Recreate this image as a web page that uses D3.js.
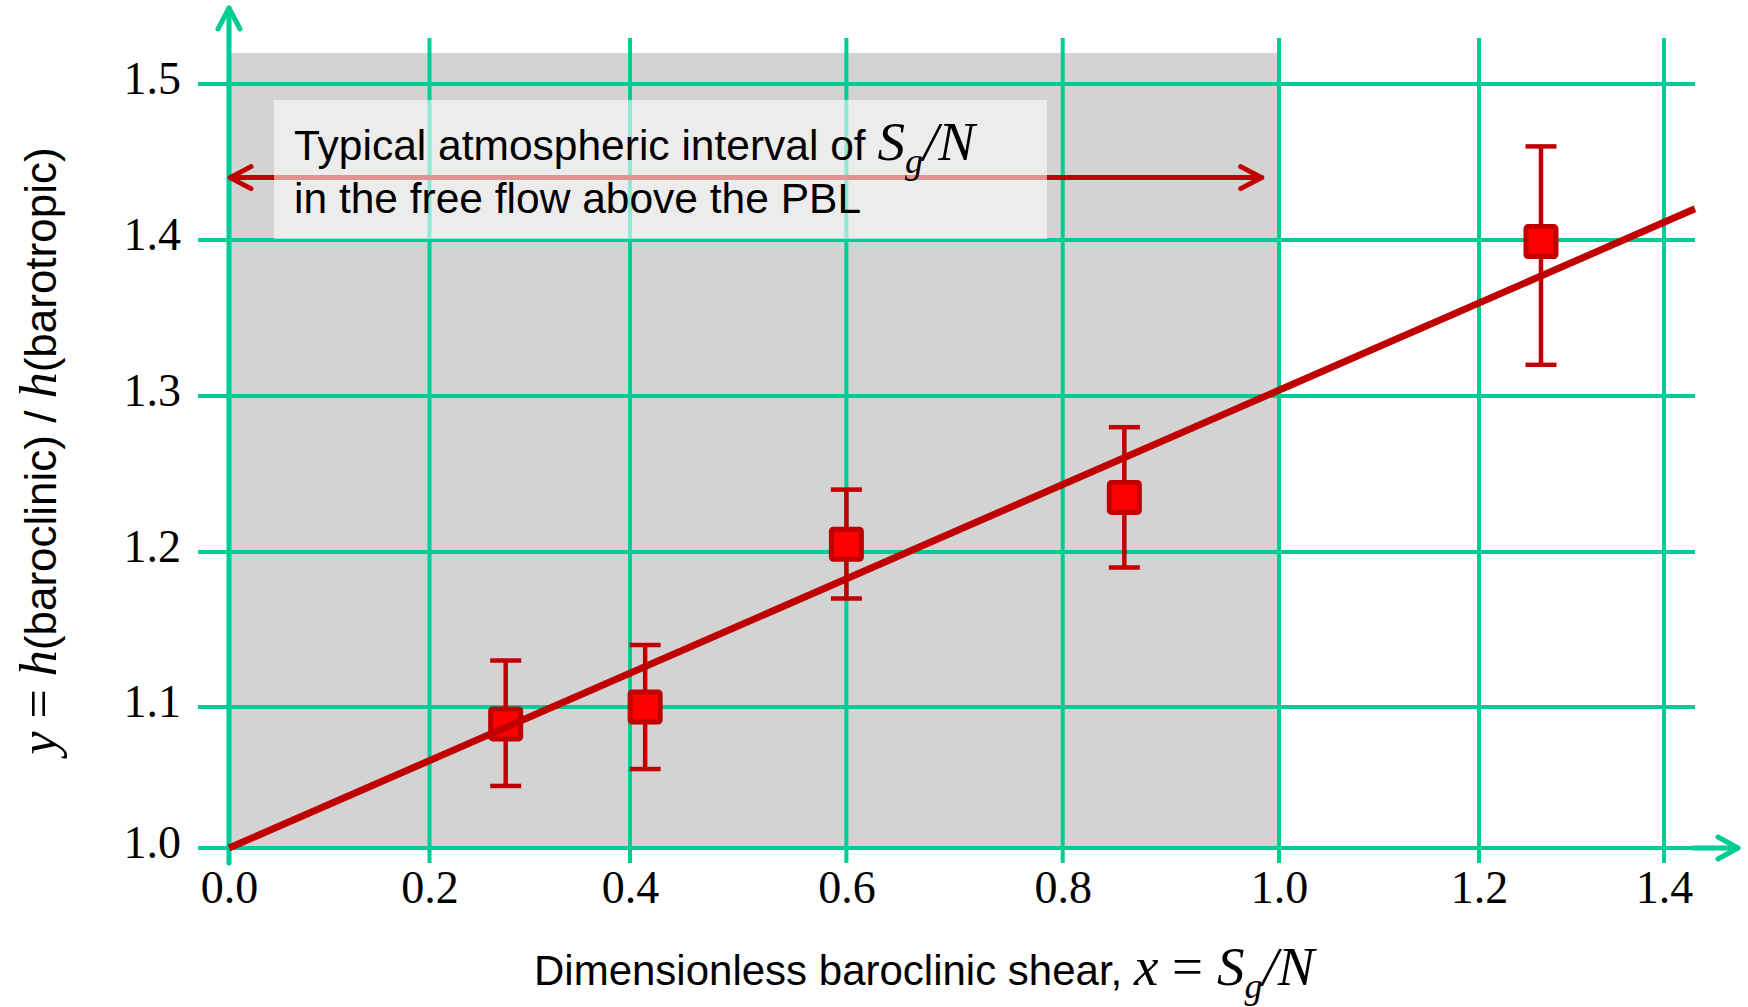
<!DOCTYPE html>
<html>
<head>
<meta charset="utf-8">
<script src="https://cdn.jsdelivr.net/npm/d3@7"></script>
<style>
  html, body { margin: 0; padding: 0; background: #fff; }
  svg { display: block; }
</style>
</head>
<body>
<div id="chart"></div>
<script>
// measured points (x = Sg/N, y = h ratio) with error bar ends
const shearValues = [0.276, 0.414, 0.600, 0.857, 1.267];
const ratioValues = [1.088, 1.100, 1.205, 1.235, 1.399];
const ratioLow    = [1.044, 1.056, 1.170, 1.190, 1.320];
const ratioHigh   = [1.130, 1.140, 1.240, 1.280, 1.460];

// straight fit line
const fitShear = [0.0, 1.4335];
const fitRatio = [1.0, 1.42];

const xTicks = [0.0, 0.2, 0.4, 0.6, 0.8, 1.0, 1.2, 1.4];
const yTicks = [1.0, 1.1, 1.2, 1.3, 1.4, 1.5];

// shaded "typical atmospheric" band and its arrow
const typicalInterval = [0.0, 1.0];
const intervalArrow = [0.0, 0.984];
const intervalArrowLevel = 1.44;

var width = 1748,
  height = 1007;

var green = "#00cc96",
  darkRed = "#c00000",
  serif = "'Liberation Serif', 'Times New Roman', serif",
  sans = "'Liberation Sans', Arial, sans-serif";

// the original grid is not evenly spaced, so the scales follow its gridlines
var xStops = [229, 429.5, 630, 846.4, 1062.7, 1279, 1479, 1664];
var yStops = [848, 707, 552, 396, 240, 84];

var x = d3.scaleLinear().domain(xTicks).range(xStops);
var y = d3.scaleLinear().domain(yTicks).range(yStops);

var svg = d3.select("#chart").append("svg")
  .attr("width", width)
  .attr("height", height);

var plotRight = x(fitShear[1]);
var gridTop = 38, gridBottom = 863, gridLeft = 198;

// shaded band
svg.append("rect")
  .attr("x", x(typicalInterval[0]))
  .attr("y", 53)
  .attr("width", x(typicalInterval[1]) - x(typicalInterval[0]))
  .attr("height", y(yTicks[0]) - 53)
  .attr("fill", "#d3d3d3");

// grid
svg.append("g").selectAll("line")
  .data(xTicks)
  .join("line")
    .attr("x1", d => x(d)).attr("x2", d => x(d))
    .attr("y1", gridTop).attr("y2", gridBottom)
    .attr("stroke", green).attr("stroke-width", 4);

svg.append("g").selectAll("line")
  .data(yTicks)
  .join("line")
    .attr("x1", gridLeft).attr("x2", plotRight)
    .attr("y1", d => y(d)).attr("y2", d => y(d))
    .attr("stroke", green).attr("stroke-width", 4);

// axis arrows
var axes = svg.append("g")
  .attr("fill", "none")
  .attr("stroke", green)
  .attr("stroke-width", 5)
  .attr("stroke-linecap", "round")
  .attr("stroke-linejoin", "round");

var x0 = x(0), y0 = y(yTicks[0]);
axes.append("line").attr("x1", x0).attr("x2", x0).attr("y1", gridBottom).attr("y2", 8);
axes.append("path").attr("d", "M" + (x0 - 11) + ",29L" + x0 + ",8L" + (x0 + 11) + ",29");
axes.append("line").attr("x1", plotRight - 2).attr("x2", 1738).attr("y1", y0).attr("y2", y0);
axes.append("path").attr("d", "M1718," + (y0 - 11) + "L1738," + y0 + "L1718," + (y0 + 11));

// tick labels
var xAxis = svg.append("g")
  .attr("transform", "translate(0," + y0 + ")")
  .call(d3.axisBottom(x).tickValues(xTicks).tickFormat(d3.format(".1f")).tickSize(0));
xAxis.select(".domain").remove();
xAxis.selectAll("text")
  .attr("y", 55).attr("dy", null)
  .attr("font-family", serif).attr("font-size", 46).attr("fill", "#000");

var yAxis = svg.append("g")
  .attr("transform", "translate(" + x0 + ",0)")
  .call(d3.axisLeft(y).tickValues(yTicks).tickFormat(d3.format(".1f")).tickSize(0));
yAxis.select(".domain").remove();
yAxis.selectAll("text")
  .attr("x", -48).attr("dy", 9)
  .attr("font-family", serif).attr("font-size", 46).attr("fill", "#000");

// interval arrow (under the text box)
var ay = y(intervalArrowLevel),
  ax1 = x(intervalArrow[0]),
  ax2 = x(intervalArrow[1]);
var arrow = svg.append("g")
  .attr("fill", "none")
  .attr("stroke", darkRed)
  .attr("stroke-width", 5)
  .attr("stroke-linecap", "round")
  .attr("stroke-linejoin", "round");
arrow.append("line").attr("x1", ax1 + 2).attr("x2", ax2).attr("y1", ay).attr("y2", ay);
arrow.append("path").attr("d", "M" + (ax1 + 22) + "," + (ay - 11) + "L" + (ax1 + 1) + "," + ay + "L" + (ax1 + 22) + "," + (ay + 11));
arrow.append("path").attr("d", "M" + (ax2 - 21) + "," + (ay - 11) + "L" + ax2 + "," + ay + "L" + (ax2 - 21) + "," + (ay + 11));

// annotation box
svg.append("rect")
  .attr("x", 274).attr("y", 100)
  .attr("width", 773).attr("height", 139)
  .attr("fill", "#fff").attr("fill-opacity", 0.57);

var note = svg.append("text")
  .attr("x", 294).attr("y", 160)
  .attr("font-family", sans).attr("font-size", 42.5).attr("fill", "#000");
note.append("tspan").text("Typical atmospheric interval of ");
note.append("tspan").attr("font-family", serif).attr("font-style", "italic").attr("font-size", 55).text("S");
note.append("tspan").attr("font-family", serif).attr("font-style", "italic").attr("font-size", 36).attr("dy", 13).text("g");
note.append("tspan").attr("font-family", serif).attr("font-style", "italic").attr("font-size", 55).attr("dy", -13).text("/N");

svg.append("text")
  .attr("x", 294).attr("y", 213)
  .attr("font-family", sans).attr("font-size", 42.5).attr("fill", "#000")
  .text("in the free flow above the PBL");

// error bars
var bars = svg.append("g")
  .attr("stroke", darkRed)
  .attr("stroke-width", 4.5);

shearValues.forEach(function(s, i) {
  var cx = x(s);
  bars.append("line").attr("x1", cx).attr("x2", cx).attr("y1", y(ratioHigh[i])).attr("y2", y(ratioLow[i]));
  bars.append("line").attr("x1", cx - 15.5).attr("x2", cx + 15.5).attr("y1", y(ratioHigh[i])).attr("y2", y(ratioHigh[i]));
  bars.append("line").attr("x1", cx - 15.5).attr("x2", cx + 15.5).attr("y1", y(ratioLow[i])).attr("y2", y(ratioLow[i]));
});

// square markers
svg.append("g").selectAll("rect")
  .data(shearValues)
  .join("rect")
    .attr("x", d => x(d) - 15)
    .attr("y", (d, i) => y(ratioValues[i]) - 15)
    .attr("width", 30).attr("height", 30)
    .attr("rx", 2)
    .attr("fill", "#ff0000")
    .attr("stroke", darkRed)
    .attr("stroke-width", 5);

// fit line on top
var line = d3.line()
  .x(function(d, i) { return x(fitShear[i]); })
  .y(function(d) { return y(d); });

svg.append("path")
  .datum(fitRatio)
  .attr("fill", "none")
  .attr("stroke", darkRed)
  .attr("stroke-width", 7)
  .attr("d", line);

// axis titles
var xTitle = svg.append("text")
  .attr("x", 534).attr("y", 985)
  .attr("font-family", sans).attr("font-size", 42).attr("fill", "#000");
xTitle.append("tspan").text("Dimensionless baroclinic shear, ");
xTitle.append("tspan").attr("font-family", serif).attr("font-style", "italic").attr("font-size", 55).text("x");
xTitle.append("tspan").attr("font-family", serif).attr("font-size", 55).text(" = ");
xTitle.append("tspan").attr("font-family", serif).attr("font-style", "italic").attr("font-size", 55).text("S");
xTitle.append("tspan").attr("font-family", serif).attr("font-style", "italic").attr("font-size", 36).attr("dy", 13).text("g");
xTitle.append("tspan").attr("font-family", serif).attr("font-style", "italic").attr("font-size", 55).attr("dy", -13).text("/N");

var yTitle = svg.append("text")
  .attr("transform", "translate(56,451) rotate(-90)")
  .attr("text-anchor", "middle")
  .attr("font-family", sans).attr("font-size", 44).attr("fill", "#000");
yTitle.append("tspan").attr("font-family", serif).attr("font-style", "italic").attr("font-size", 52).text("y");
yTitle.append("tspan").attr("font-family", serif).attr("font-size", 52).text(" = ");
yTitle.append("tspan").attr("font-family", serif).attr("font-style", "italic").attr("font-size", 52).text("h");
yTitle.append("tspan").text("(baroclinic) / ");
yTitle.append("tspan").attr("font-family", serif).attr("font-style", "italic").attr("font-size", 52).text("h");
yTitle.append("tspan").text("(barotropic)");
</script>
</body>
</html>
